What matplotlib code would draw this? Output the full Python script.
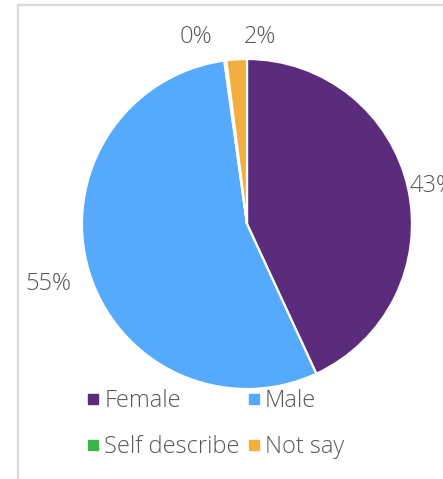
import numpy as np
import matplotlib
matplotlib.use("Agg")
import matplotlib.pyplot as plt
from matplotlib.lines import Line2D
from matplotlib.patches import Rectangle

# Gender breakdown of respondents (percent)
categories = ["Female", "Male", "Self describe", "Not say"]
shares = [43.1, 54.7, 0.2, 2.0]
colors = ["#5B2B7C", "#55AAFE", "#3CB44A", "#F2AF3D"]

plt.rcParams["font.family"] = ["Open Sans", "DejaVu Sans"]
plt.rcParams["font.weight"] = "light"
TEXT = "#595959"
FS = 17

W, H, DPI = 443, 479, 100
fig = plt.figure(figsize=(W / DPI, H / DPI), dpi=DPI)
ax = fig.add_axes([0, 0, 1, 1])

# pie geometry in pixels: centre and radius
cx, cy, R = 247, 224, 165

# chart frame (top and left edges visible)
fig.patches.append(Rectangle((18 / W, -0.1), 1.2, (H - 5) / H + 0.1,
                             transform=fig.transFigure, fill=False,
                             edgecolor="#D9D9D9", linewidth=1.6, zorder=0))

wedges, _ = ax.pie(shares, colors=colors, startangle=90, counterclock=False,
                   radius=1, center=(0, 0), frame=True,
                   wedgeprops=dict(edgecolor="white", linewidth=1.6))
ax.set_xlim(-cx / R, (W - cx) / R)
ax.set_ylim(-(H - cy) / R, cy / R)
ax.set_aspect("auto")
ax.axis("off")

# label placement: outside each wedge, with nudges for the crowded top pair
dist = {"Female": 1.01, "Male": 1.11}
shift = {"Female": 0.015, "Male": -0.05}
nudge = {"Self describe": (-0.31, 1.135), "Not say": (0.08, 1.135)}
for name, val, w in zip(categories, shares, wedges):
    label = f"{round(val):.0f}%"
    if name in nudge:
        x, y = nudge[name]
        ax.text(x, y, label, ha="center", va="center", fontsize=FS, color=TEXT)
        continue
    mid = np.deg2rad((w.theta1 + w.theta2) / 2)
    d = dist[name]
    x, y = d * np.cos(mid), d * np.sin(mid) + shift[name]
    ax.text(x, y, label, ha="left" if x > 0 else "right", va="center",
            fontsize=FS, color=TEXT)

# legend laid out row by row
order = [0, 2, 1, 3]
handles = [Line2D([], [], marker="s", linestyle="none", markersize=6.5,
                  markerfacecolor=colors[i], markeredgecolor=colors[i])
           for i in order]
labels = [categories[i] for i in order]
fig.legend(handles, labels, ncol=2, loc="upper left",
           bbox_to_anchor=(87 / W, 1 - 389 / H), frameon=False,
           fontsize=FS, labelcolor=TEXT, handlelength=0.55,
           handletextpad=0.19, columnspacing=0.32, labelspacing=0.95,
           borderaxespad=0, borderpad=0)

fig.savefig("out.png", dpi=DPI)
